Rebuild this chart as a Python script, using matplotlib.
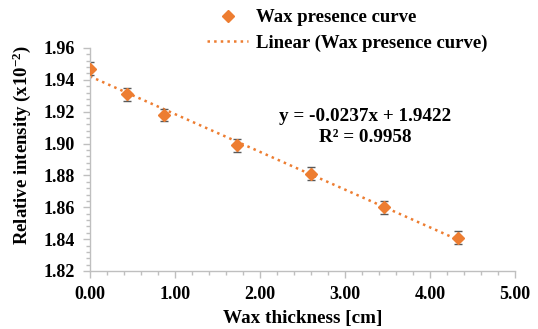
import matplotlib
matplotlib.use('Agg')
import matplotlib.pyplot as plt
from matplotlib.ticker import MultipleLocator, FormatStrFormatter
import numpy as np

# data
thickness = [0.00, 0.43, 0.87, 1.73, 2.60, 3.46, 4.33]
intensity = [1.947, 1.931, 1.918, 1.899, 1.881, 1.860, 1.841]
err = [0.004, 0.004, 0.004, 0.004, 0.004, 0.004, 0.004]
slope, intercept = -0.0237, 1.9422
r2 = 0.9958

ORANGE = '#ed7d31'
GREY = '#bfbfbf'

plt.rcParams['font.family'] = ['Liberation Serif', 'DejaVu Serif']
plt.rcParams['font.weight'] = 'bold'
plt.rcParams['mathtext.fontset'] = 'custom'
plt.rcParams['mathtext.rm'] = 'Liberation Serif:bold'
plt.rcParams['mathtext.default'] = 'rm'

fig = plt.figure(figsize=(5.38, 3.29), dpi=100)
ax = fig.add_axes([90/538, 1 - 271/329, 425/538, 223/329])

ax.errorbar(thickness, intensity, yerr=err, fmt='none', ecolor='#595959',
            elinewidth=1.0, capsize=3, capthick=1.0, zorder=2)
ax.plot(thickness, intensity, 'D', color=ORANGE, ms=6.5, zorder=3,
        label='Wax presence curve')
xs = np.array([thickness[0], thickness[-1]])
ax.plot(xs, slope*xs + intercept, ':', color=ORANGE, lw=1.8, zorder=1,
        label='Linear (Wax presence curve)')

ax.set_xlim(0, 5)
ax.set_ylim(1.82, 1.96)
ax.xaxis.set_major_locator(MultipleLocator(1))
ax.xaxis.set_minor_locator(MultipleLocator(0.2))
ax.yaxis.set_major_locator(MultipleLocator(0.02))
ax.yaxis.set_minor_locator(MultipleLocator(0.004))
ax.xaxis.set_major_formatter(FormatStrFormatter('%.2f'))
ax.yaxis.set_major_formatter(FormatStrFormatter('%.2f'))

for s in ['top', 'right']:
    ax.spines[s].set_visible(False)
for s in ['left', 'bottom']:
    ax.spines[s].set_color(GREY)
    ax.spines[s].set_linewidth(1.0)
ax.tick_params(which='both', direction='out', color=GREY, width=1.0)
ax.tick_params(which='major', length=5, labelsize=13, pad=6)
ax.tick_params(which='minor', length=3)

ax.set_xlabel('Wax thickness [cm]', fontsize=13.8, fontweight='bold', labelpad=5)
ax.set_ylabel('Relative intensity (x10$^{-2}$)', fontsize=13.5,
              fontweight='bold', labelpad=3)
ax.yaxis.set_label_coords(-0.134, 0.565)

ax.text(3.24, 1.9167, 'y = -0.0237x + 1.9422', fontsize=13.8,
        fontweight='bold', ha='center', va='center')
ax.text(3.24, 1.9035, 'R² = %.4f' % r2, fontsize=13.8,
        fontweight='bold', ha='center', va='center')

leg = fig.legend(loc='upper left', bbox_to_anchor=(207/538, 1 - 9/329),
                 frameon=False, borderpad=0, borderaxespad=0,
                 prop={'size': 13.5, 'weight': 'bold'}, handlelength=2.2,
                 labelspacing=0.45, handletextpad=0.4)

fig.savefig('out.png', dpi=100, facecolor='white')
